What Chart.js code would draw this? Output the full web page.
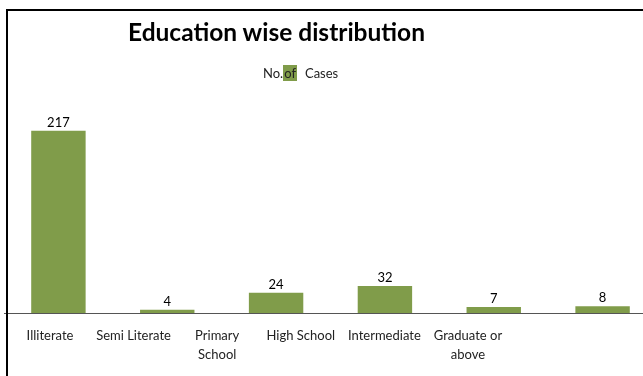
<!DOCTYPE html>
<html>
<head>
  <title>Education wise distribution</title>
  <script src="https://cdn.jsdelivr.net/npm/chart.js"></script>
  <style>
    html, body {
      margin: 0;
      padding: 0;
      width: 643px;
      height: 376px;
      overflow: hidden;
      background: #fff;
      font-family: Lato, "Open Sans", sans-serif;
    }
    #eduChart {
      position: absolute;
      left: 0;
      top: 0;
    }
    #frame {
      position: absolute;
      left: 6px;
      top: 9px;
      width: 700px;
      height: 400px;
      border-left: 2px solid #000;
      border-top: 2px solid #000;
      pointer-events: none;
    }
    #chartTitle {
      position: absolute;
      left: 0;
      top: 20px;
      width: 553px;
      text-align: center;
      font-size: 24.5px;
      line-height: 24.5px;
      font-weight: bold;
      color: #000;
    }
    #chartLegend {
      position: absolute;
      left: 263px;
      top: 66px;
      font-size: 13px;
      line-height: 15px;
      color: #222;
      white-space: nowrap;
    }
    #chartLegend .swatch {
      background: #809c4a;
      padding: 0 1px;
      margin-right: 8px;
    }
  </style>
</head>
<body>
  <canvas id="eduChart" width="660" height="376"></canvas>
  <div id="chartTitle">Education wise distribution</div>
  <div id="chartLegend">No.<span class="swatch">of</span>Cases</div>
  <div id="frame"></div>

  <script>
    const categories = ["Illiterate", "Semi Literate", "Primary School", "High School", "Intermediate", "Graduate or above"];
    const cases = [217, 4, 24, 32, 7, 8];
    // wrapped axis labels, one entry per category
    const tickLabels = [["Illiterate"], ["Semi Literate"], ["Primary", "School"], ["High School"], ["Intermediate"], ["Graduate or", "above"]];

    const barColor = '#809c4a';
    // range of the label axis (in category steps)
    const labelMin = -0.55;
    const labelMax = 7.261;

    // numbers above each bar
    const valueLabels = {
      id: 'valueLabels',
      afterDatasetsDraw(chart) {
        const ctx = chart.ctx;
        const meta = chart.getDatasetMeta(0);
        ctx.save();
        ctx.font = '13px Lato, "Open Sans", sans-serif';
        ctx.fillStyle = '#000';
        ctx.textAlign = 'center';
        ctx.textBaseline = 'alphabetic';
        meta.data.forEach((bar, i) => {
          ctx.fillText(String(cases[i]), bar.x, bar.y - 4);
        });
        ctx.restore();
      }
    };

    const ctx = document.getElementById('eduChart').getContext('2d');

    new Chart(ctx, {
      type: 'bar',
      data: {
        labels: categories,
        datasets: [{
          label: "No.of Cases",
          data: cases,
          backgroundColor: barColor,
          borderWidth: 0,
          barPercentage: 0.5,
          categoryPercentage: 1.0,
          xAxisID: 'x',
          yAxisID: 'y'
        }]
      },
      options: {
        responsive: false,
        animation: false,
        layout: { padding: { left: 4, right: 3, top: 103, bottom: 0 } },
        plugins: {
          legend: { display: false },
          title: { display: false },
          tooltip: { enabled: false }
        },
        scales: {
          x: {
            type: 'category',
            display: false
          },
          // category names sit on their own evenly spaced axis
          xl: {
            type: 'linear',
            position: 'bottom',
            axis: 'x',
            offset: false,
            bounds: 'data',
            min: labelMin,
            max: labelMax,
            grid: { display: false, drawTicks: false, offset: false },
            border: { display: true, color: '#555', width: 1 },
            afterDataLimits: axis => {
              axis.min = labelMin;
              axis.max = labelMax;
            },
            afterBuildTicks: axis => {
              axis.ticks = categories.map((c, i) => ({ value: i }));
            },
            afterFit: axis => {
              axis.height = 63;
              axis.paddingLeft = 0;
              axis.paddingRight = 0;
            },
            ticks: {
              autoSkip: false,
              includeBounds: false,
              maxRotation: 0,
              minRotation: 0,
              padding: 13,
              color: '#222',
              font: { family: 'Lato, "Open Sans", sans-serif', size: 13, lineHeight: 1.5 },
              callback: value => tickLabels[value]
            }
          },
          y: {
            display: false,
            min: 0,
            max: 250
          }
        }
      },
      plugins: [valueLabels]
    });
  </script>
</body>
</html>
